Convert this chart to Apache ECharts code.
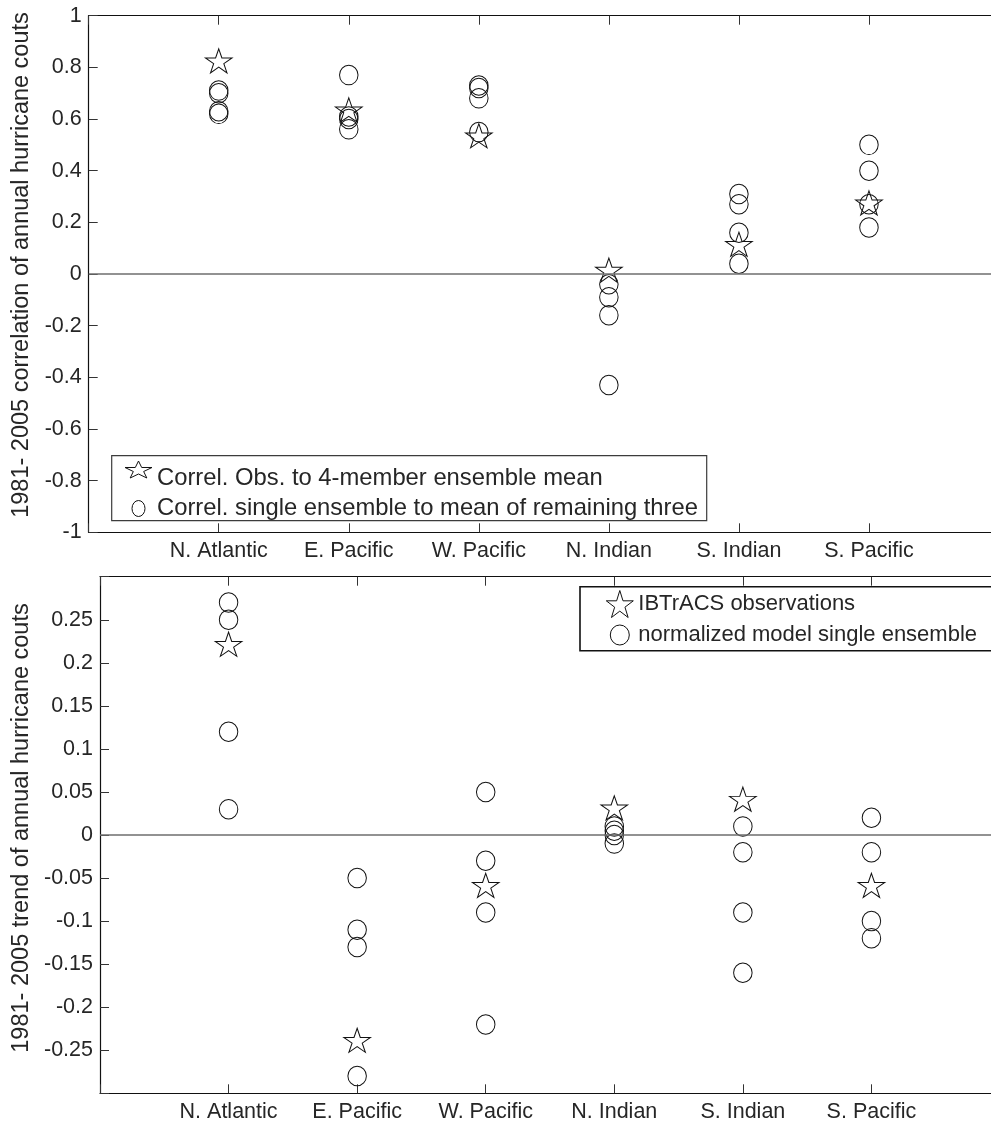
<!DOCTYPE html>
<html>
<head>
<meta charset="utf-8">
<title>1981-2005 hurricane counts: correlation and trend by basin</title>
<script src="https://cdn.jsdelivr.net/npm/echarts@6/dist/echarts.min.js"></script>
<style>
  html, body { margin: 0; padding: 0; background: #fff; }
  #chart { width: 991px; height: 1127px; }
</style>
</head>
<body>
<div id="chart"></div>
<script>
// Ocean basins shown along both x axes
const regions = ['N. Atlantic', 'E. Pacific', 'W. Pacific', 'N. Indian', 'S. Indian', 'S. Pacific'];

// Upper panel: correlation of annual hurricane counts, 1981-2005
const corrObsToEnsembleMean = [0.82, 0.63, 0.53, 0.01, 0.11, 0.27];
const corrSingleToRemaining = [
  [0.71, 0.70, 0.63, 0.62],
  [0.77, 0.61, 0.60, 0.56],
  [0.73, 0.72, 0.68, 0.55],
  [-0.04, -0.09, -0.16, -0.43],
  [0.31, 0.27, 0.16, 0.04],
  [0.50, 0.40, 0.27, 0.18]
];

// Lower panel: trend of annual hurricane counts, 1981-2005
const trendObserved = [0.22, -0.24, -0.06, 0.03, 0.04, -0.06];
const trendModelMembers = [
  [0.27, 0.25, 0.12, 0.03],
  [-0.05, -0.11, -0.13, -0.28],
  [0.05, -0.03, -0.09, -0.22],
  [0.01, 0.005, 0.0, -0.01],
  [0.01, -0.02, -0.09, -0.16],
  [0.02, -0.02, -0.10, -0.12]
];

const seriesNames = {
  corrStar: 'Correl. Obs. to 4-member ensemble mean',
  corrCircle: 'Correl. single ensemble to mean of remaining three',
  trendStar: 'IBTrACS observations',
  trendCircle: 'normalized model single ensemble'
};

const FONT = '"Liberation Sans", Arial, Helvetica, sans-serif';
const INK = '#111';
const TEXT = '#262626';

// Five-pointed star outline (regular pentagram) as point list, apex up
function starPoints(R) {
  const r = R * 0.381966;
  const pts = [];
  for (let k = 0; k < 10; k++) {
    const a = -Math.PI / 2 + k * Math.PI / 5;
    const rad = k % 2 ? r : R;
    pts.push([rad * Math.cos(a), rad * Math.sin(a)]);
  }
  return pts;
}
function polyPath(pts) {
  return 'M' + pts.map(p => p[0].toFixed(3) + ',' + p[1].toFixed(3)).join(' L') + ' Z';
}
// Star fitted into a sub-box (bx,by,bw,bh) of a W x H icon cell
function starInCell(W, H, bx, by, bw, bh) {
  const pts = starPoints(100);
  const xs = pts.map(p => p[0]), ys = pts.map(p => p[1]);
  const x0 = Math.min(...xs), x1 = Math.max(...xs), y0 = Math.min(...ys), y1 = Math.max(...ys);
  const fitted = pts.map(p => [bx + (p[0] - x0) / (x1 - x0) * bw, by + (p[1] - y0) / (y1 - y0) * bh]);
  return 'path://M0,0 M' + W + ',' + H + ' ' + polyPath(fitted);
}
// Ellipse centred in a W x H icon cell
function ellipseInCell(W, H, rx, ry) {
  const cx = W / 2, cy = H / 2;
  return 'path://M0,0 M' + W + ',' + H +
    ' M' + (cx + rx) + ',' + cy +
    ' A' + rx + ',' + ry + ' 0 1,1 ' + (cx - rx) + ',' + cy +
    ' A' + rx + ',' + ry + ' 0 1,1 ' + (cx + rx) + ',' + cy + ' Z';
}

const STAR_SYMBOL = 'path://' + polyPath(starPoints(100));
const STAR_R = 14;
const starSize = [1.902 * STAR_R, 1.809 * STAR_R];
// shift so the star's centre (not its bounding box) sits on the value
const starOffset = [0, -0.0955 * STAR_R];
const circleSize = [18.5, 19.5];

const outline = { color: 'transparent', borderColor: INK, borderWidth: 1, opacity: 1 };

function memberPoints(groups) {
  const out = [];
  groups.forEach((vals, i) => vals.forEach(v => out.push([i + 1, v])));
  return out;
}
function obsPoints(vals) {
  return vals.map((v, i) => [i + 1, v]);
}

const zeroLine = {
  silent: true,
  animation: false,
  symbol: ['none', 'none'],
  label: { show: false },
  lineStyle: { color: '#6e6e6e', width: 1.6, type: 'solid' },
  data: [{ yAxis: 0 }]
};

function regionAxis(gridIndex, position) {
  const bottom = position === 'bottom';
  return {
    type: 'value',
    gridIndex: gridIndex,
    position: position,
    min: 0,
    max: 7,
    interval: 1,
    axisLine: { show: true, onZero: false, lineStyle: { color: INK, width: 1.2 } },
    axisTick: { show: true, inside: true, length: 9, lineStyle: { color: '#333', width: 1 } },
    axisLabel: {
      show: bottom,
      margin: 8,
      fontFamily: FONT,
      fontSize: 21.5,
      color: TEXT,
      formatter: v => regions[v - 1] || ''
    },
    splitLine: { show: false }
  };
}

// namePad nudges the rotated axis title upward along the axis
function valueAxis(gridIndex, min, max, interval, name, nameGap, namePad, hideEnds) {
  return {
    type: 'value',
    gridIndex: gridIndex,
    min: min,
    max: max,
    interval: interval,
    name: name,
    nameLocation: 'middle',
    nameGap: nameGap,
    nameRotate: 90,
    nameTextStyle: { fontFamily: FONT, fontSize: 23.5, color: TEXT, padding: [0, 0, 0, namePad] },
    axisLine: { show: true, onZero: false, lineStyle: { color: INK, width: 1.2 } },
    axisTick: { show: true, inside: true, length: 9, lineStyle: { color: '#333', width: 1 } },
    axisLabel: {
      margin: 7,
      fontFamily: FONT,
      fontSize: 21.5,
      color: TEXT,
      formatter: v => {
        const s = String(Math.round(v * 1000) / 1000);
        if (hideEnds && (Math.abs(v - min) < 1e-9 || Math.abs(v - max) < 1e-9)) return '';
        return s;
      }
    },
    splitLine: { show: false }
  };
}

const chart = echarts.init(document.getElementById('chart'), null, { renderer: 'canvas' });

chart.setOption({
  animation: false,
  backgroundColor: '#fff',
  grid: [
    { left: 88.7, top: 15.7, width: 910.3, height: 516.6, containLabel: false, outerBoundsMode: 'none' },
    { left: 100, top: 576.7, width: 900, height: 516.6, containLabel: false, outerBoundsMode: 'none' }
  ],
  xAxis: [
    regionAxis(0, 'bottom'),
    regionAxis(0, 'top'),
    regionAxis(1, 'bottom'),
    regionAxis(1, 'top')
  ],
  yAxis: [
    valueAxis(0, -1, 1, 0.2, '1981- 2005 correlation of annual hurricane couts', 50, 18, false),
    valueAxis(1, -0.3, 0.3, 0.05, '1981- 2005 trend of annual hurricane couts', 64, 14, true)
  ],
  graphic: [
    {
      type: 'rect', z: 3, silent: true,
      shape: { x: 111.7, y: 455.7, width: 595, height: 65 },
      style: { fill: '#fff', stroke: '#3c3c3c', lineWidth: 1.2 }
    },
    {
      type: 'rect', z: 3, silent: true,
      shape: { x: 580, y: 586.7, width: 440, height: 64 },
      style: { fill: '#fff', stroke: INK, lineWidth: 1.6 }
    }
  ],
  legend: [
    {
      orient: 'vertical',
      left: 124.5,
      top: 460.5,
      padding: 0,
      itemWidth: 27,
      itemHeight: 35,
      itemGap: -6,
      symbolKeepAspect: false,
      selectedMode: false,
      textStyle: { fontFamily: FONT, fontSize: 23.8, color: TEXT },
      data: [
        { name: seriesNames.corrStar, icon: starInCell(27, 35, 0, 0, 27, 17), itemStyle: outline },
        { name: seriesNames.corrCircle, icon: ellipseInCell(27, 35, 6.5, 8), itemStyle: outline }
      ]
    },
    {
      orient: 'vertical',
      left: 605.8,
      top: 590,
      padding: 0,
      itemWidth: 27,
      itemHeight: 27,
      itemGap: 3,
      symbolKeepAspect: false,
      selectedMode: false,
      textStyle: { fontFamily: FONT, fontSize: 22, color: TEXT },
      data: [
        { name: seriesNames.trendStar, icon: starInCell(27, 27, 0, 0, 27, 27), itemStyle: outline },
        { name: seriesNames.trendCircle, icon: ellipseInCell(27, 27, 9.5, 10), itemStyle: outline }
      ]
    }
  ],
  series: [
    {
      name: seriesNames.corrCircle,
      type: 'scatter',
      xAxisIndex: 0, yAxisIndex: 0,
      symbol: 'circle',
      symbolSize: circleSize,
      itemStyle: outline,
      silent: true,
      emphasis: { disabled: true },
      data: memberPoints(corrSingleToRemaining),
      markLine: zeroLine
    },
    {
      name: seriesNames.corrStar,
      type: 'scatter',
      xAxisIndex: 0, yAxisIndex: 0,
      symbol: STAR_SYMBOL,
      symbolKeepAspect: true,
      symbolSize: starSize,
      symbolOffset: starOffset,
      itemStyle: outline,
      silent: true,
      emphasis: { disabled: true },
      data: obsPoints(corrObsToEnsembleMean)
    },
    {
      name: seriesNames.trendCircle,
      type: 'scatter',
      xAxisIndex: 2, yAxisIndex: 1,
      symbol: 'circle',
      symbolSize: circleSize,
      itemStyle: outline,
      silent: true,
      emphasis: { disabled: true },
      data: memberPoints(trendModelMembers),
      markLine: zeroLine
    },
    {
      name: seriesNames.trendStar,
      type: 'scatter',
      xAxisIndex: 2, yAxisIndex: 1,
      symbol: STAR_SYMBOL,
      symbolKeepAspect: true,
      symbolSize: starSize,
      symbolOffset: starOffset,
      itemStyle: outline,
      silent: true,
      emphasis: { disabled: true },
      data: obsPoints(trendObserved)
    }
  ]
});
</script>
</body>
</html>
